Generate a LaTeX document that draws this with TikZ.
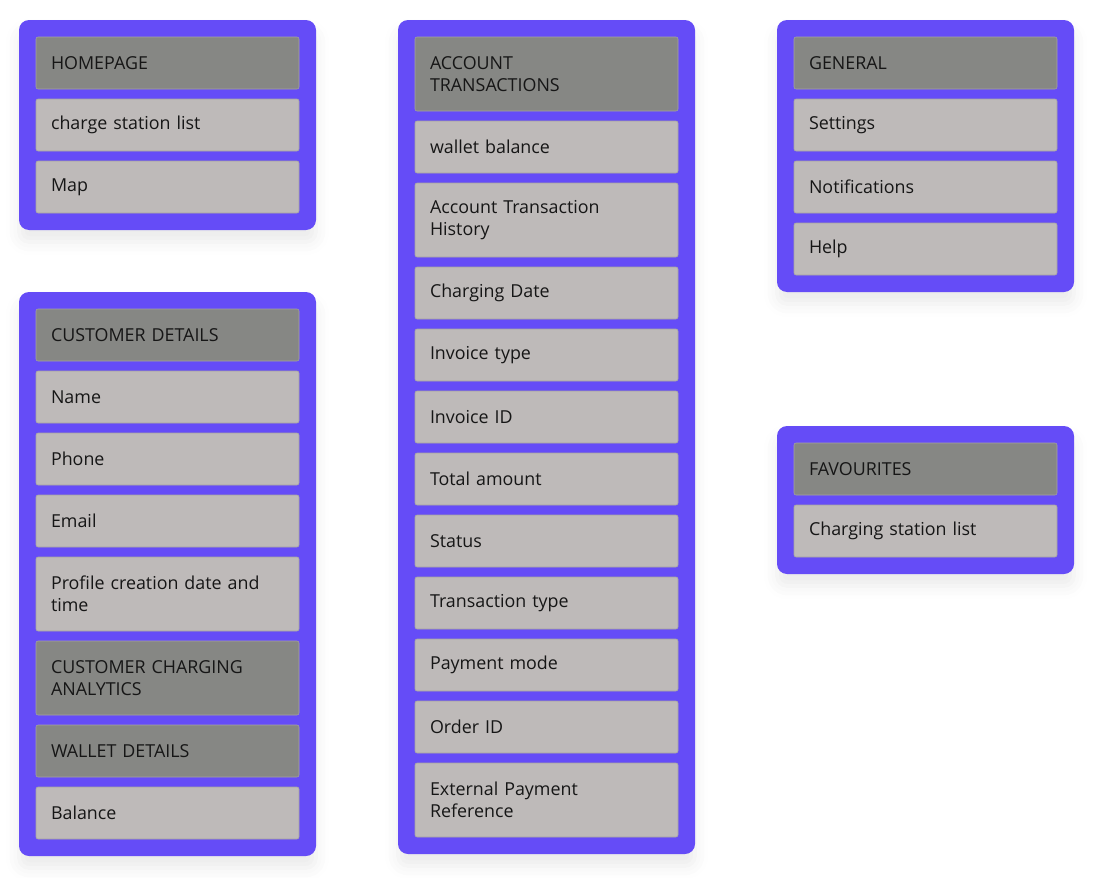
\documentclass[tikz,border=0pt]{standalone}
\usepackage{fontspec}
\setmainfont{Open Sans}
\usetikzlibrary{positioning,fit,backgrounds,shadows.blur}
\definecolor{panelblue}{RGB}{101,76,247}
\definecolor{headgray}{RGB}{134,135,132}
\definecolor{itemgray}{RGB}{190,186,185}
\definecolor{itemline}{RGB}{166,163,162}
\definecolor{textdark}{RGB}{22,22,22}

\begin{document}
\begin{tikzpicture}[
  x=0.75pt, y=-0.75pt,
  node distance=7.5pt,
  item/.style={rectangle, draw=itemline, line width=0.4pt, fill=itemgray, rounded corners=1.5pt,
    outer sep=0pt, minimum height=39pt, text width=174.75pt, inner xsep=11.25pt, inner ysep=3pt,
    align=left, text=textdark, font=\fontsize{13.4}{16.5}\selectfont},
  head/.style={item, fill=headgray},
  tall/.style={minimum height=55.5pt},
  panel/.style={rectangle, fill=panelblue, rounded corners=7.5pt, inner sep=12.75pt,
    blur shadow={shadow xshift=0pt, shadow yshift=-9pt, shadow blur radius=10pt, shadow opacity=8}}
]
\useasboundingbox (0,0) rectangle (1097,878);

% homepage
\node[head, anchor=north west] (h0) at (36,37) {HOMEPAGE};
\node[item, below=of h0] (h1) {charge station list};
\node[item, below=of h1] (h2) {Map};

% customer
\node[head, anchor=north west] (c0) at (36,309) {CUSTOMER DETAILS};
\node[item, below=of c0] (c1) {Name};
\node[item, below=of c1] (c2) {Phone};
\node[item, below=of c2] (c3) {Email};
\node[item, tall, below=of c3] (c4) {Profile creation date and\\time};
\node[head, tall, below=of c4] (c5) {CUSTOMER CHARGING\\ANALYTICS};
\node[head, below=of c5] (c6) {WALLET DETAILS};
\node[item, below=of c6] (c7) {Balance};

% account transactions
\node[head, tall, anchor=north west] (a0) at (415,37) {ACCOUNT\\TRANSACTIONS};
\node[item, below=of a0] (a1) {wallet balance};
\node[item, tall, below=of a1] (a2) {Account Transaction\\History};
\node[item, below=of a2] (a3) {Charging Date};
\node[item, below=of a3] (a4) {Invoice type};
\node[item, below=of a4] (a5) {Invoice ID};
\node[item, below=of a5] (a6) {Total amount};
\node[item, below=of a6] (a7) {Status};
\node[item, below=of a7] (a8) {Transaction type};
\node[item, below=of a8] (a9) {Payment mode};
\node[item, below=of a9] (a10) {Order ID};
\node[item, tall, below=of a10] (a11) {External Payment\\Reference};

% general
\node[head, anchor=north west] (g0) at (794,37) {GENERAL};
\node[item, below=of g0] (g1) {Settings};
\node[item, below=of g1] (g2) {Notifications};
\node[item, below=of g2] (g3) {Help};

% favourites
\node[head, anchor=north west] (f0) at (794,443) {FAVOURITES};
\node[item, below=of f0] (f1) {Charging station list};

\begin{scope}[on background layer]
  \node[panel, fit=(h0)(h2)] (homePanel) {};
  \node[panel, fit=(c0)(c7)] (custPanel) {};
  \node[panel, fit=(a0)(a11)] (acctPanel) {};
  \node[panel, fit=(g0)(g3)] (genPanel) {};
  \node[panel, fit=(f0)(f1)] (favPanel) {};
\end{scope}
\end{tikzpicture}
\end{document}
